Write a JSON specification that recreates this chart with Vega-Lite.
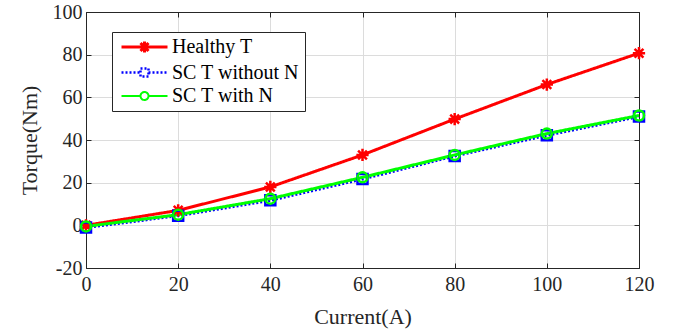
{
  "$schema": "https://vega.github.io/schema/vega-lite/v6.json",
  "autosize": "none",
  "width": 553,
  "height": 256,
  "padding": {"left": 86, "top": 12, "right": 39, "bottom": 66},
  "background": "white",
  "config": {
    "font": "Liberation Serif",
    "view": {"stroke": "#262626", "strokeWidth": 1},
    "text": {"font": "Liberation Serif"},
    "axis": {
      "labelFont": "Liberation Serif", "titleFont": "Liberation Serif",
      "labelFontSize": 20, "titleFontSize": 22, "titleFontWeight": "normal",
      "labelColor": "#262626", "titleColor": "#262626",
      "domainColor": "#262626", "tickColor": "#262626",
      "gridColor": "#dcdcdc", "gridWidth": 1, "tickSize": -5, "labelFlush": false,
      "labelExpr": "replace(datum.label, '−', '-')"
    },
    "legend": {"labelFont": "Liberation Serif"}
  },
  "data": {"values": [
    {"current": 0, "torque": 0, "series": "Healthy T"},
    {"current": 20, "torque": 7, "series": "Healthy T"},
    {"current": 40, "torque": 18, "series": "Healthy T"},
    {"current": 60, "torque": 33, "series": "Healthy T"},
    {"current": 80, "torque": 49.8, "series": "Healthy T"},
    {"current": 100, "torque": 66, "series": "Healthy T"},
    {"current": 120, "torque": 80.7, "series": "Healthy T"},
    {"current": 0, "torque": -1, "series": "SC T without N"},
    {"current": 20, "torque": 4.5, "series": "SC T without N"},
    {"current": 40, "torque": 11.7, "series": "SC T without N"},
    {"current": 60, "torque": 21.7, "series": "SC T without N"},
    {"current": 80, "torque": 32.5, "series": "SC T without N"},
    {"current": 100, "torque": 42.2, "series": "SC T without N"},
    {"current": 120, "torque": 51, "series": "SC T without N"},
    {"current": 0, "torque": -0.5, "series": "SC T with N"},
    {"current": 20, "torque": 5, "series": "SC T with N"},
    {"current": 40, "torque": 12.5, "series": "SC T with N"},
    {"current": 60, "torque": 22.5, "series": "SC T with N"},
    {"current": 80, "torque": 33, "series": "SC T with N"},
    {"current": 100, "torque": 43, "series": "SC T with N"},
    {"current": 120, "torque": 51.5, "series": "SC T with N"}
  ]},
  "layer": [
    {
      "mark": {"type": "line", "strokeWidth": 3},
      "encoding": {
        "x": {"field": "current", "type": "quantitative", "scale": {"domain": [0, 120], "nice": false},
              "axis": {"values": [0, 20, 40, 60, 80, 100, 120], "title": "Current(A)", "grid": true, "labelPadding": 11, "titlePadding": 12}},
        "y": {"field": "torque", "type": "quantitative", "scale": {"domain": [-20, 100], "nice": false},
              "axis": {"values": [-20, 0, 20, 40, 60, 80, 100], "title": "Torque(Nm)", "grid": true, "labelPadding": 9, "titlePadding": 11}},
        "color": {"field": "series", "type": "nominal",
          "scale": {"domain": ["Healthy T", "SC T without N", "SC T with N"], "range": ["#ff0000", "#0000ff", "#00ff00"]},
          "legend": {
            "title": null, "orient": "none", "legendX": 26, "legendY": 20,
            "strokeColor": "#262626", "fillColor": "white", "padding": 5, "cornerRadius": 0,
            "labelFont": "Liberation Serif",
            "labelFontSize": 20, "labelColor": "#000000", "symbolSize": 100, "symbolOffset": 17.5, "labelOffset": 17.5,
            "rowPadding": 3.5,
            "encode": {"symbols": {"update": {
              "shape": {"signal": "datum.value === 'Healthy T' ? 'M-4.6,0L4.6,0M-1.1,0L1.1,0M0,-1.1L0,1.1M-0.8,-0.8L0.8,0.8M-0.8,0.8L0.8,-0.8' : datum.value === 'SC T without N' ? 'M-4.6,0L-0.8,0M0.8,0L4.6,0M-0.8,-0.8L0.8,-0.8L0.8,0.8L-0.8,0.8Z' : 'M-4.6,0L-0.8,0M0.8,0L4.6,0M0.8,0A0.8,0.8 0 1,1 -0.8,0A0.8,0.8 0 1,1 0.8,0'"},
              "fill": {"value": "transparent"},
              "strokeWidth": {"signal": "datum.value === 'SC T without N' ? 2.2 : 2.8"},
              "strokeDash": {"signal": "datum.value === 'SC T without N' ? [2, 1.5] : []"}
            }}}
          }},
        "strokeDash": {"field": "series", "type": "nominal",
          "scale": {"domain": ["Healthy T", "SC T without N", "SC T with N"], "range": [[1, 0], [2, 2], [1, 0]]}, "legend": null},
        "strokeWidth": {"field": "series", "type": "nominal",
          "scale": {"domain": ["Healthy T", "SC T without N", "SC T with N"], "range": [3, 2, 3]}, "legend": null},
        "order": {"field": "current"}
      }
    },
    {
      "transform": [{"filter": "datum.series === 'Healthy T'"}],
      "mark": {"type": "point", "filled": false, "strokeWidth": 2.5, "opacity": 1, "color": "#ff0000", "size": 150,
               "shape": "M-1,0L1,0M0,-1L0,1M-0.72,-0.72L0.72,0.72M-0.72,0.72L0.72,-0.72"},
      "encoding": {
        "x": {"field": "current", "type": "quantitative", "scale": {"domain": [0, 120], "nice": false},
              "axis": {"orient": "top", "values": [0, 20, 40, 60, 80, 100, 120], "labels": false, "title": null, "grid": false}},
        "y": {"field": "torque", "type": "quantitative", "scale": {"domain": [-20, 100], "nice": false},
              "axis": {"orient": "right", "values": [-20, 0, 20, 40, 60, 80, 100], "labels": false, "title": null, "grid": false}}
      }
    },
    {
      "transform": [{"filter": "datum.series === 'SC T without N'"}],
      "mark": {"type": "point", "filled": false, "strokeWidth": 2.5, "opacity": 1, "color": "#0000ff", "size": 100, "shape": "square"},
      "encoding": {
        "x": {"field": "current", "type": "quantitative", "axis": null},
        "y": {"field": "torque", "type": "quantitative", "axis": null}
      }
    },
    {
      "transform": [{"filter": "datum.series === 'SC T with N'"}],
      "mark": {"type": "point", "filled": false, "strokeWidth": 2.5, "opacity": 1, "color": "#00ff00", "size": 100, "shape": "circle"},
      "encoding": {
        "x": {"field": "current", "type": "quantitative", "axis": null},
        "y": {"field": "torque", "type": "quantitative", "axis": null}
      }
    }
  ],
  "resolve": {"axis": {"x": "independent", "y": "independent"}}
}
